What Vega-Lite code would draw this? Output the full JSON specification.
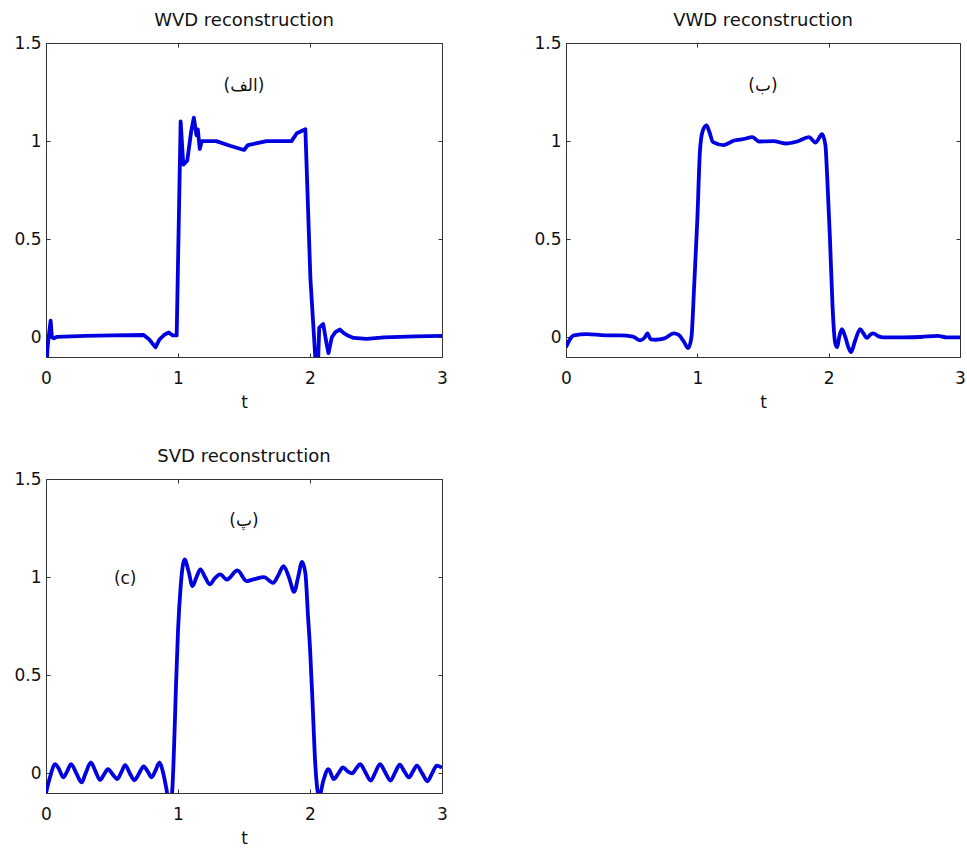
{
  "$schema": "https://vega.github.io/schema/vega-lite/v6.json",
  "background": "white",
  "padding": {"left": 13, "top": 11, "right": 5, "bottom": 5},
  "columns": 2,
  "spacing": {"row": 122, "column": 124},
  "bounds": "flush",
  "datasets": {
    "wvd": [
      {"t":0,"v":-0.2},{"t":0.012,"v":-0.05},{"t":0.02,"v":0.0},{"t":0.035,"v":0.085},{"t":0.045,"v":0.0},{"t":0.06,"v":-0.005},{"t":0.08,"v":0.003},{"t":0.3,"v":0.008},{"t":0.5,"v":0.01},{"t":0.74,"v":0.012},{"t":0.78,"v":-0.01},{"t":0.83,"v":-0.05},{"t":0.86,"v":-0.01},{"t":0.9,"v":0.015},{"t":0.93,"v":0.025},{"t":0.96,"v":0.01},{"t":0.99,"v":0.01},{"t":1.02,"v":1.1},{"t":1.04,"v":0.88},{"t":1.07,"v":0.9},{"t":1.1,"v":1.05},{"t":1.12,"v":1.12},{"t":1.14,"v":1.03},{"t":1.15,"v":1.06},{"t":1.165,"v":0.96},{"t":1.18,"v":1.0},{"t":1.29,"v":1.0},{"t":1.4,"v":0.975},{"t":1.5,"v":0.955},{"t":1.53,"v":0.98},{"t":1.6,"v":0.99},{"t":1.67,"v":1.0},{"t":1.75,"v":1.0},{"t":1.86,"v":1.0},{"t":1.9,"v":1.04},{"t":1.965,"v":1.06},{"t":2.003,"v":0.3},{"t":2.04,"v":-0.1},{"t":2.055,"v":-0.25},{"t":2.07,"v":0.05},{"t":2.1,"v":0.068},{"t":2.125,"v":-0.03},{"t":2.14,"v":-0.08},{"t":2.165,"v":0.0},{"t":2.19,"v":0.025},{"t":2.225,"v":0.04},{"t":2.26,"v":0.02},{"t":2.29,"v":0.008},{"t":2.33,"v":-0.003},{"t":2.43,"v":-0.008},{"t":2.56,"v":0.0},{"t":2.8,"v":0.005},{"t":3.0,"v":0.008}
    ],
    "vwd": [
      {"t":0,"v":-0.05},{"t":0.03,"v":-0.01},{"t":0.06,"v":0.01},{"t":0.16,"v":0.017},{"t":0.3,"v":0.01},{"t":0.41,"v":0.01},{"t":0.51,"v":0.004},{"t":0.565,"v":-0.015},{"t":0.6,"v":0.0},{"t":0.62,"v":0.02},{"t":0.645,"v":-0.01},{"t":0.68,"v":-0.012},{"t":0.75,"v":-0.005},{"t":0.82,"v":0.02},{"t":0.86,"v":0.012},{"t":0.9,"v":-0.025},{"t":0.93,"v":-0.055},{"t":0.955,"v":0.0},{"t":0.975,"v":0.25},{"t":1.0,"v":0.6},{"t":1.02,"v":0.95},{"t":1.04,"v":1.05},{"t":1.07,"v":1.08},{"t":1.09,"v":1.05},{"t":1.12,"v":0.995},{"t":1.2,"v":0.98},{"t":1.28,"v":1.003},{"t":1.35,"v":1.01},{"t":1.42,"v":1.02},{"t":1.47,"v":0.998},{"t":1.58,"v":1.0},{"t":1.67,"v":0.988},{"t":1.76,"v":0.998},{"t":1.85,"v":1.02},{"t":1.9,"v":0.993},{"t":1.95,"v":1.035},{"t":1.975,"v":0.98},{"t":1.99,"v":0.8},{"t":2.01,"v":0.5},{"t":2.03,"v":0.15},{"t":2.05,"v":-0.03},{"t":2.065,"v":-0.05},{"t":2.08,"v":0.0},{"t":2.1,"v":0.042},{"t":2.125,"v":0.005},{"t":2.15,"v":-0.05},{"t":2.17,"v":-0.075},{"t":2.2,"v":-0.02},{"t":2.24,"v":0.042},{"t":2.265,"v":0.02},{"t":2.29,"v":-0.003},{"t":2.32,"v":0.015},{"t":2.34,"v":0.02},{"t":2.38,"v":0.005},{"t":2.42,"v":0.0},{"t":2.57,"v":0.0},{"t":2.7,"v":0.002},{"t":2.83,"v":0.008},{"t":2.9,"v":0.0},{"t":3.0,"v":0.0}
    ],
    "svd": [
      {"t":0,"v":-0.1},{"t":0.03,"v":-0.02},{"t":0.07,"v":0.047},{"t":0.1,"v":0.02},{"t":0.13,"v":-0.02},{"t":0.16,"v":0.01},{"t":0.19,"v":0.047},{"t":0.23,"v":0.0},{"t":0.27,"v":-0.046},{"t":0.3,"v":0.0},{"t":0.34,"v":0.056},{"t":0.375,"v":0.01},{"t":0.41,"v":-0.034},{"t":0.44,"v":-0.005},{"t":0.47,"v":0.022},{"t":0.505,"v":-0.005},{"t":0.54,"v":-0.029},{"t":0.57,"v":0.005},{"t":0.6,"v":0.042},{"t":0.635,"v":0.0},{"t":0.67,"v":-0.034},{"t":0.705,"v":0.0},{"t":0.74,"v":0.036},{"t":0.77,"v":0.01},{"t":0.8,"v":-0.02},{"t":0.83,"v":0.015},{"t":0.86,"v":0.056},{"t":0.885,"v":0.01},{"t":0.91,"v":-0.07},{"t":0.935,"v":-0.16},{"t":0.955,"v":-0.1},{"t":0.97,"v":0.13},{"t":0.985,"v":0.45},{"t":1.0,"v":0.725},{"t":1.02,"v":0.95},{"t":1.05,"v":1.09},{"t":1.08,"v":1.03},{"t":1.11,"v":0.954},{"t":1.14,"v":1.0},{"t":1.17,"v":1.039},{"t":1.205,"v":1.0},{"t":1.24,"v":0.963},{"t":1.28,"v":0.995},{"t":1.32,"v":1.014},{"t":1.37,"v":0.988},{"t":1.45,"v":1.034},{"t":1.52,"v":0.98},{"t":1.58,"v":0.99},{"t":1.65,"v":1.0},{"t":1.72,"v":0.971},{"t":1.76,"v":1.01},{"t":1.8,"v":1.056},{"t":1.84,"v":1.0},{"t":1.88,"v":0.925},{"t":1.91,"v":1.0},{"t":1.94,"v":1.078},{"t":1.965,"v":1.02},{"t":1.985,"v":0.8},{"t":2.0,"v":0.64},{"t":2.02,"v":0.35},{"t":2.04,"v":0.047},{"t":2.07,"v":-0.12},{"t":2.1,"v":-0.04},{"t":2.14,"v":0.022},{"t":2.18,"v":-0.029},{"t":2.215,"v":0.0},{"t":2.25,"v":0.03},{"t":2.285,"v":0.01},{"t":2.32,"v":0.0},{"t":2.35,"v":0.025},{"t":2.38,"v":0.047},{"t":2.42,"v":0.005},{"t":2.46,"v":-0.037},{"t":2.495,"v":0.005},{"t":2.53,"v":0.047},{"t":2.57,"v":0.005},{"t":2.61,"v":-0.037},{"t":2.645,"v":0.005},{"t":2.68,"v":0.044},{"t":2.715,"v":0.01},{"t":2.75,"v":-0.02},{"t":2.78,"v":0.01},{"t":2.81,"v":0.039},{"t":2.85,"v":0.0},{"t":2.89,"v":-0.04},{"t":2.925,"v":0.0},{"t":2.96,"v":0.039},{"t":3.0,"v":0.03}
    ],
    "lab1": [{"t":1.5,"v":1.28,"label":"(الف)"}],
    "lab2": [{"t":1.5,"v":1.28,"label":"(ب)"}],
    "lab3": [{"t":1.5,"v":1.285,"label":"(پ)"},{"t":0.6,"v":0.99,"label":"(c)"}]
  },
  "concat": [
    {
      "width": 396, "height": 314,
      "title": "WVD reconstruction",
      "layer": [
        {
          "data": {"name": "wvd"},
          "mark": {"type": "line", "color": "#0000e0", "strokeWidth": 3.8, "clip": true, "strokeJoin": "round"},
          "encoding": {
            "x": {"field": "t", "type": "quantitative", "scale": {"domain": [0, 3], "nice": false, "zero": false}, "axis": {"title": "t", "values": [0, 1, 2, 3], "format": "~g"}},
            "y": {"field": "v", "type": "quantitative", "scale": {"domain": [-0.1, 1.5], "nice": false, "zero": false}, "axis": {"title": null, "values": [0, 0.5, 1, 1.5], "format": "~g"}}
          }
        },
        {
          "data": {"name": "wvd"},
          "mark": {"type": "line", "opacity": 0},
          "encoding": {
            "x": {"field": "t", "type": "quantitative", "axis": {"orient": "top", "title": null, "labels": false, "values": [0, 1, 2, 3]}},
            "y": {"field": "v", "type": "quantitative", "axis": {"orient": "right", "title": null, "labels": false, "values": [0, 0.5, 1, 1.5]}}
          }
        },
        {
          "data": {"name": "lab1"},
          "mark": {"type": "text", "fontSize": 17, "color": "#111"},
          "encoding": {
            "x": {"field": "t", "type": "quantitative", "axis": null},
            "y": {"field": "v", "type": "quantitative", "axis": null},
            "text": {"field": "label"}
          }
        }
      ],
      "resolve": {"axis": {"x": "independent", "y": "independent"}}
    },
    {
      "width": 394, "height": 314,
      "title": "VWD reconstruction",
      "layer": [
        {
          "data": {"name": "vwd"},
          "mark": {"type": "line", "color": "#0000e0", "strokeWidth": 3.8, "clip": true, "interpolate": "monotone"},
          "encoding": {
            "x": {"field": "t", "type": "quantitative", "scale": {"domain": [0, 3], "nice": false, "zero": false}, "axis": {"title": "t", "values": [0, 1, 2, 3], "format": "~g"}},
            "y": {"field": "v", "type": "quantitative", "scale": {"domain": [-0.1, 1.5], "nice": false, "zero": false}, "axis": {"title": null, "values": [0, 0.5, 1, 1.5], "format": "~g"}}
          }
        },
        {
          "data": {"name": "vwd"},
          "mark": {"type": "line", "opacity": 0},
          "encoding": {
            "x": {"field": "t", "type": "quantitative", "axis": {"orient": "top", "title": null, "labels": false, "values": [0, 1, 2, 3]}},
            "y": {"field": "v", "type": "quantitative", "axis": {"orient": "right", "title": null, "labels": false, "values": [0, 0.5, 1, 1.5]}}
          }
        },
        {
          "data": {"name": "lab2"},
          "mark": {"type": "text", "fontSize": 17, "color": "#111"},
          "encoding": {
            "x": {"field": "t", "type": "quantitative", "axis": null},
            "y": {"field": "v", "type": "quantitative", "axis": null},
            "text": {"field": "label"}
          }
        }
      ],
      "resolve": {"axis": {"x": "independent", "y": "independent"}}
    },
    {
      "width": 396, "height": 314,
      "title": "SVD reconstruction",
      "layer": [
        {
          "data": {"name": "svd"},
          "mark": {"type": "line", "color": "#0000e0", "strokeWidth": 3.8, "clip": true, "interpolate": "monotone"},
          "encoding": {
            "x": {"field": "t", "type": "quantitative", "scale": {"domain": [0, 3], "nice": false, "zero": false}, "axis": {"title": "t", "values": [0, 1, 2, 3], "format": "~g"}},
            "y": {"field": "v", "type": "quantitative", "scale": {"domain": [-0.1, 1.5], "nice": false, "zero": false}, "axis": {"title": null, "values": [0, 0.5, 1, 1.5], "format": "~g"}}
          }
        },
        {
          "data": {"name": "svd"},
          "mark": {"type": "line", "opacity": 0},
          "encoding": {
            "x": {"field": "t", "type": "quantitative", "axis": {"orient": "top", "title": null, "labels": false, "values": [0, 1, 2, 3]}},
            "y": {"field": "v", "type": "quantitative", "axis": {"orient": "right", "title": null, "labels": false, "values": [0, 0.5, 1, 1.5]}}
          }
        },
        {
          "data": {"name": "lab3"},
          "mark": {"type": "text", "fontSize": 17, "color": "#111"},
          "encoding": {
            "x": {"field": "t", "type": "quantitative", "axis": null},
            "y": {"field": "v", "type": "quantitative", "axis": null},
            "text": {"field": "label"}
          }
        }
      ],
      "resolve": {"axis": {"x": "independent", "y": "independent"}}
    }
  ],
  "config": {
    "font": "DejaVu Sans",
    "view": {"stroke": "#333", "strokeWidth": 1},
    "axis": {"domain": false, "grid": false, "ticks": true, "tickSize": -4, "tickColor": "#333", "labelFontSize": 17, "labelColor": "#111", "labelFont": "DejaVu Sans", "labelFlush": false, "titleFont": "DejaVu Sans", "titleFontSize": 17, "titleFontWeight": "normal", "titleColor": "#111"},
    "axisX": {"labelPadding": 17, "titlePadding": 8},
    "axisY": {"labelPadding": 9},
    "title": {"fontSize": 18, "fontWeight": "normal", "font": "DejaVu Sans", "color": "#111", "baseline": "alphabetic", "offset": 4}
  }
}
